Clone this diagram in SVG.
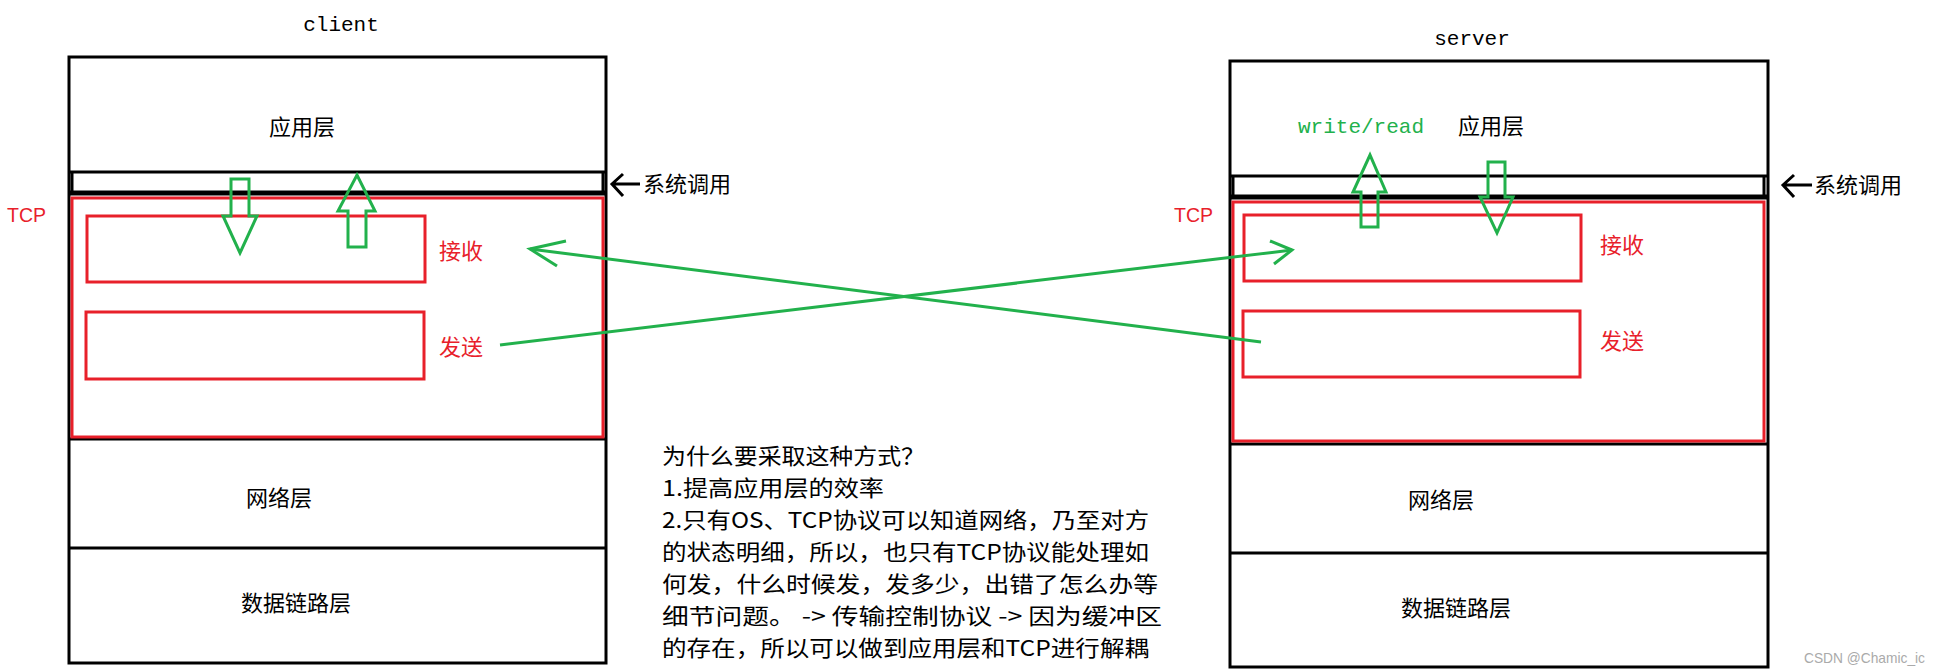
<svg xmlns="http://www.w3.org/2000/svg" width="1941" height="670" viewBox="0 0 1941 670">
<style>
.blk{fill:none;stroke:#000;stroke-width:3}
.red{fill:none;stroke:#e8202a;stroke-width:3}
.grn{fill:none;stroke:#22b14c;stroke-width:3}
.cn{font-family:"Noto Sans CJK SC","Liberation Serif",serif;font-size:22px}
.mono{font-family:"Liberation Mono",monospace;font-size:21px}
.rt{fill:#e8202a}
</style>
<rect width="1941" height="670" fill="#fff"/>
<g id="client">
<text class="mono" x="341" y="31" text-anchor="middle">client</text>
<rect class="blk" x="69" y="57" width="537" height="606"/>
<line class="blk" x1="69" y1="172" x2="606" y2="172"/>
<line x1="69" y1="193" x2="606" y2="193" stroke="#000" stroke-width="5"/>
<line class="blk" x1="72" y1="172" x2="72" y2="193"/>
<line class="blk" x1="603" y1="172" x2="603" y2="193"/>
<line class="blk" x1="69" y1="439" x2="606" y2="439"/>
<line class="blk" x1="69" y1="548" x2="606" y2="548"/>
<text class="cn" x="302" y="135" text-anchor="middle">应用层</text>
<text class="cn" x="279" y="506" text-anchor="middle">网络层</text>
<text class="cn" x="296" y="611" text-anchor="middle">数据链路层</text>
</g>
<g id="client-tcp">
<rect class="red" x="72" y="198" width="531" height="239"/>
<text class="rt" x="7" y="222" font-family="Liberation Sans,sans-serif" font-size="20" textLength="39" lengthAdjust="spacingAndGlyphs">TCP</text>
<rect class="red" x="87" y="216" width="338" height="66"/>
<rect class="red" x="86" y="312" width="338" height="67"/>
<text class="cn rt" x="439" y="259">接收</text>
<text class="cn rt" x="439" y="355">发送</text>
</g>
<g id="client-syscall">
<path d="M612 184 L640 184 M623 174 L612 184 L623 196" class="blk"/>
<text class="cn" x="643" y="192">系统调用</text>
</g>
<g id="server">
<text class="mono" x="1472" y="45" text-anchor="middle">server</text>
<rect class="blk" x="1230" y="61" width="538" height="606"/>
<line class="blk" x1="1230" y1="176" x2="1768" y2="176"/>
<line x1="1230" y1="197" x2="1768" y2="197" stroke="#000" stroke-width="5"/>
<line class="blk" x1="1233" y1="176" x2="1233" y2="197"/>
<line class="blk" x1="1764" y1="176" x2="1764" y2="197"/>
<line class="blk" x1="1230" y1="444" x2="1768" y2="444"/>
<line class="blk" x1="1230" y1="553" x2="1768" y2="553"/>
<text class="mono" x="1298" y="133" fill="#22b14c">write/read</text>
<text class="cn" x="1491" y="134" text-anchor="middle">应用层</text>
<text class="cn" x="1441" y="508" text-anchor="middle">网络层</text>
<text class="cn" x="1456" y="616" text-anchor="middle">数据链路层</text>
</g>
<g id="server-tcp">
<rect class="red" x="1233" y="202" width="531" height="239"/>
<text class="rt" x="1174" y="222" font-family="Liberation Sans,sans-serif" font-size="20" textLength="39" lengthAdjust="spacingAndGlyphs">TCP</text>
<rect class="red" x="1244" y="215" width="337" height="66"/>
<rect class="red" x="1243" y="311" width="337" height="66"/>
<text class="cn rt" x="1600" y="253">接收</text>
<text class="cn rt" x="1600" y="349">发送</text>
</g>
<g id="server-syscall">
<path d="M1783 185 L1812 185 M1794 175 L1783 185 L1794 197" class="blk"/>
<text class="cn" x="1814" y="193">系统调用</text>
</g>
<g id="connectors">
<path class="grn" d="M231 179 H249 V216 H257 L240 253 L223 216 H231 Z"/>
<path class="grn" d="M348 247 V211 H338 L357 175 L375 211 H366 V247 Z"/>
<path class="grn" d="M1361 227 V192 H1353 L1370 155 L1386 192 H1378 V227 Z"/>
<path class="grn" d="M1488 162 H1505 V197 H1513 L1497 233 L1480 197 H1488 Z"/>
<line class="grn" x1="500" y1="345" x2="1292" y2="250"/>
<path class="grn" d="M1270 241 L1292 250 L1274 264"/>
<line class="grn" x1="1261" y1="342" x2="530" y2="249"/>
<path class="grn" d="M566 241 L530 249 L557 266"/>
</g>
<g id="note" class="cn">
<text x="662" y="464" textLength="263" lengthAdjust="spacingAndGlyphs">为什么要采取这种方式？</text>
<text x="662" y="496" textLength="222" lengthAdjust="spacingAndGlyphs">1.提高应用层的效率</text>
<text x="662" y="528" textLength="487" lengthAdjust="spacingAndGlyphs">2.只有OS、TCP协议可以知道网络，乃至对方</text>
<text x="662" y="560" textLength="487" lengthAdjust="spacingAndGlyphs">的状态明细，所以，也只有TCP协议能处理如</text>
<text x="662" y="592" textLength="496" lengthAdjust="spacingAndGlyphs">何发，什么时候发，发多少，出错了怎么办等</text>
<text x="662" y="624" textLength="500" lengthAdjust="spacingAndGlyphs">细节问题。 -&gt; 传输控制协议 -&gt; 因为缓冲区</text>
<text x="662" y="656" textLength="487" lengthAdjust="spacingAndGlyphs">的存在，所以可以做到应用层和TCP进行解耦</text>
</g>
<text x="1804" y="663" font-family="Liberation Sans,sans-serif" font-size="15" fill="#aaa" textLength="121" lengthAdjust="spacingAndGlyphs">CSDN @Chamic_ic</text>
</svg>
